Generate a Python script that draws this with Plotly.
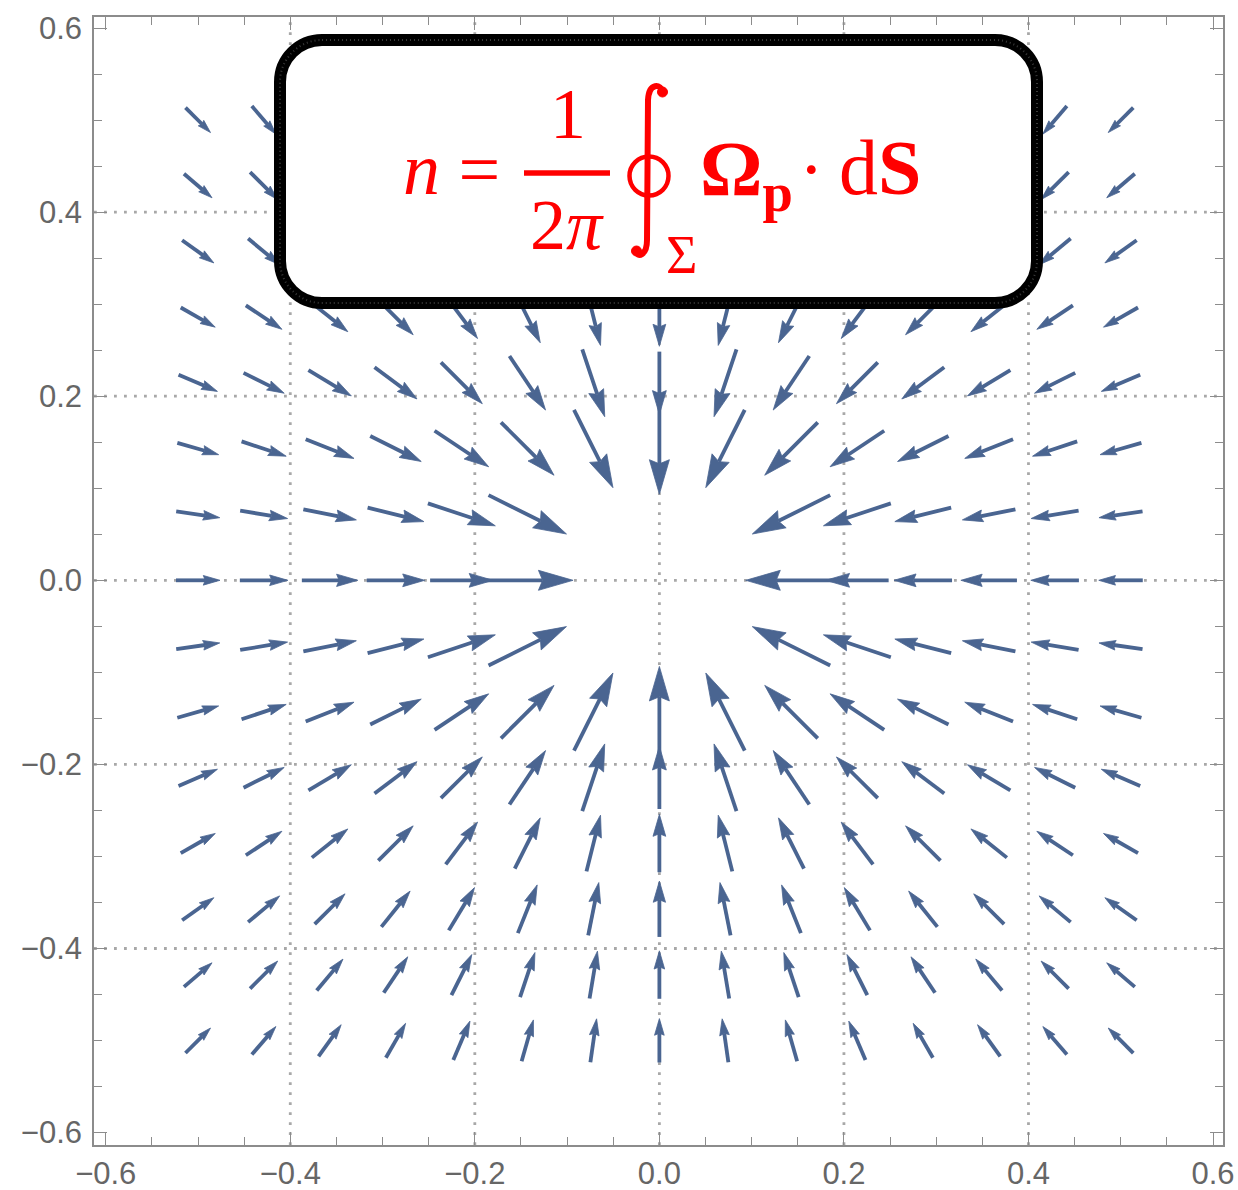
import plotly.graph_objects as go

# Field sample points (same on both axes)
grid = [-0.5, -0.4286, -0.3571, -0.2857, -0.2143, -0.1429, -0.0714, 0.0,
        0.0714, 0.1429, 0.2143, 0.2857, 0.3571, 0.4286, 0.5]

# Drawn arrow length, indexed by |column step| and |row step| from the centre.
# None marks the samples next to the singular point, which are not drawn.
arrow_len = [
    [None,   None,   0.0987, 0.0683, 0.0629, 0.0607, 0.0521, 0.0477],
    [None,   None,   0.0944, 0.0770, 0.0629, 0.0586, 0.0521, 0.0477],
    [0.0987, 0.0944, 0.0813, 0.0705, 0.0618, 0.0564, 0.0510, 0.0466],
    [0.0683, 0.0770, 0.0705, 0.0634, 0.0575, 0.0542, 0.0493, 0.0459],
    [0.0629, 0.0629, 0.0618, 0.0575, 0.0535, 0.0499, 0.0470, 0.0431],
    [0.0607, 0.0586, 0.0564, 0.0542, 0.0499, 0.0466, 0.0445, 0.0423],
    [0.0521, 0.0521, 0.0510, 0.0493, 0.0470, 0.0445, 0.0423, 0.0401],
    [0.0477, 0.0477, 0.0466, 0.0459, 0.0431, 0.0423, 0.0401, 0.0384],
]

grid_ticks = [-0.4, -0.2, 0.0, 0.2, 0.4]

ARROW = "#4a6591"
FORMULA = "#ff0000"
FRAME = "#8c8c8c"
SERIF = "Liberation Serif"

HEAD_FRAC = 0.38     # head length relative to arrow length
HEAD_HALF_W = 0.11   # head half-width relative to arrow length
NOTCH = 0.12         # depth of the notch at the back of the head

# ---- arrows: each one centred on its sample point, pointing to the origin
shaft_x, shaft_y, head_x, head_y = [], [], [], []
mid = len(grid) // 2
for i, x in enumerate(grid):
    for j, y in enumerate(grid):
        L = arrow_len[abs(i - mid)][abs(j - mid)]
        if L is None:
            continue
        r = (x * x + y * y) ** 0.5
        ux, uy = -x / r, -y / r
        nx, ny = -uy, ux
        tx, ty = x + ux * L / 2, y + uy * L / 2
        sx, sy = x - ux * L / 2, y - uy * L / 2
        h, w = HEAD_FRAC * L, HEAD_HALF_W * L
        bx, by = tx - ux * h, ty - uy * h
        mx, my = bx + ux * h * NOTCH, by + uy * h * NOTCH
        shaft_x += [sx, mx, None]
        shaft_y += [sy, my, None]
        head_x += [tx, bx + nx * w, mx, bx - nx * w, tx, None]
        head_y += [ty, by + ny * w, my, by - ny * w, ty, None]

fig = go.Figure()
fig.add_trace(go.Scatter(x=shaft_x, y=shaft_y, mode="lines",
                         line=dict(color=ARROW, width=3.8),
                         hoverinfo="skip", showlegend=False))
fig.add_trace(go.Scatter(x=head_x, y=head_y, mode="lines", fill="toself",
                         fillcolor=ARROW, line=dict(color=ARROW, width=0.8),
                         hoverinfo="skip", showlegend=False))

# ---- page geometry
W, H = 1238, 1190
ML, MR, MT, MB = 94, 15, 17, 45
X0, X1 = -0.6127, 0.6108
Y0, Y1 = -0.6135, 0.612


def at(px, py):
    """Page pixel position -> data coordinates."""
    return (X0 + (px - ML) / (W - ML - MR) * (X1 - X0),
            Y1 - (py - MT) / (H - MT - MB) * (Y1 - Y0))


shapes = []
# dotted grid
for g in grid_ticks:
    shapes.append(dict(type="line", xref="x", yref="y", x0=g, x1=g, y0=Y0, y1=Y1,
                       line=dict(color="#a8a8a8", width=2.8, dash="2.8px,7.2px"),
                       layer="below"))
    shapes.append(dict(type="line", xref="x", yref="y", x0=X0, x1=X1, y0=g, y1=g,
                       line=dict(color="#a8a8a8", width=2.8, dash="2.8px,7.2px"),
                       layer="below"))

# rounded box behind the formula
bx0, by1 = at(280, 40)
bx1, by0 = at(1037, 303)
rx = (X1 - X0) / (W - ML - MR) * 42
ry = (Y1 - Y0) / (H - MT - MB) * 42
k = 0.5523
box_path = (
    f"M {bx0+rx},{by1} L {bx1-rx},{by1} "
    f"C {bx1-rx+k*rx},{by1} {bx1},{by1-ry+k*ry} {bx1},{by1-ry} "
    f"L {bx1},{by0+ry} "
    f"C {bx1},{by0+ry-k*ry} {bx1-rx+k*rx},{by0} {bx1-rx},{by0} "
    f"L {bx0+rx},{by0} "
    f"C {bx0+rx-k*rx},{by0} {bx0},{by0+ry-k*ry} {bx0},{by0+ry} "
    f"L {bx0},{by1-ry} "
    f"C {bx0},{by1-ry+k*ry} {bx0+rx-k*rx},{by1} {bx0+rx},{by1} Z"
)
shapes.append(dict(type="path", xref="x", yref="y", path=box_path,
                   fillcolor="white", line=dict(color="black", width=12),
                   layer="above"))
shapes.append(dict(type="path", xref="x", yref="y", path=box_path,
                   line=dict(color="#3a3a3a", width=2, dash="1px,3px"),
                   layer="above"))

# fraction bar
fx0, fy = at(524, 173)
fx1, _ = at(610, 173)
shapes.append(dict(type="line", xref="x", yref="y", x0=fx0, x1=fx1, y0=fy, y1=fy,
                   line=dict(color=FORMULA, width=5.4), layer="above"))


def pth(points):
    cmd = []
    for p in points:
        if isinstance(p, str):
            cmd.append(p)
        else:
            x, y = at(*p)
            cmd.append(f"{x},{y}")
    return " ".join(cmd)


# contour integral sign
integral = pth(["M", (663, 92), "C", (661, 84), (649, 82), (648, 100),
                "L", (647, 240), "C", (647, 256), (637, 258), (636, 251)])
shapes.append(dict(type="path", xref="x", yref="y", path=integral,
                   line=dict(color=FORMULA, width=6), layer="above"))
for cx, cy in [(662.5, 92), (636.5, 251)]:
    a0 = at(cx - 5, cy - 5)
    a1 = at(cx + 5, cy + 5)
    shapes.append(dict(type="circle", xref="x", yref="y",
                       x0=a0[0], x1=a1[0], y0=a1[1], y1=a0[1],
                       fillcolor=FORMULA, line=dict(color=FORMULA, width=1),
                       layer="above"))
c0 = at(649 - 19.5, 176 - 19.5)
c1 = at(649 + 19.5, 176 + 19.5)
shapes.append(dict(type="circle", xref="x", yref="y",
                   x0=c0[0], x1=c1[0], y0=c1[1], y1=c0[1],
                   line=dict(color=FORMULA, width=4.5), layer="above"))

# formula text pieces: (text, page x, page y of the line middle, size)
pieces = [
    ("<i>n</i> =", 451, 169, 74),
    ("1", 567.5, 113.5, 72),
    ("2<i>π</i>", 567, 225, 72),
    ("Σ", 681.5, 254.5, 54),
    ("<b>Ω<sub>p</sub></b>", 746, 174, 78),
    ("·", 811.5, 169, 74),
    ("d<b>S</b>", 880, 167.5, 78),
]
annotations = []
for txt, px, py, size in pieces:
    ax_, ay_ = at(px, py)
    annotations.append(dict(text=txt, x=ax_, y=ay_, xref="x", yref="y",
                            xanchor="center", yanchor="middle", showarrow=False,
                            font=dict(family=SERIF, size=size, color=FORMULA)))

axis = dict(
    showline=True, linecolor=FRAME, linewidth=1.5, mirror="allticks",
    ticks="inside", ticklen=13, tickwidth=1.3, tickcolor=FRAME,
    tick0=0, dtick=0.2, tickformat=".1f",
    showgrid=False, zeroline=False, automargin=False,
    tickfont=dict(family="Liberation Sans", size=31, color="#666666"),
    minor=dict(dtick=0.05, ticks="inside", ticklen=8, tickwidth=1.3,
               tickcolor=FRAME, showgrid=False),
)

fig.update_layout(
    width=W, height=H,
    margin=dict(l=ML, r=MR, t=MT, b=MB),
    paper_bgcolor="white", plot_bgcolor="white",
    xaxis=dict(axis, range=[X0, X1], ticklabelstandoff=0),
    yaxis=dict(axis, range=[Y0, Y1], ticklabelstandoff=4),
    shapes=shapes, annotations=annotations,
    showlegend=False,
)

fig.write_html("out.html")
